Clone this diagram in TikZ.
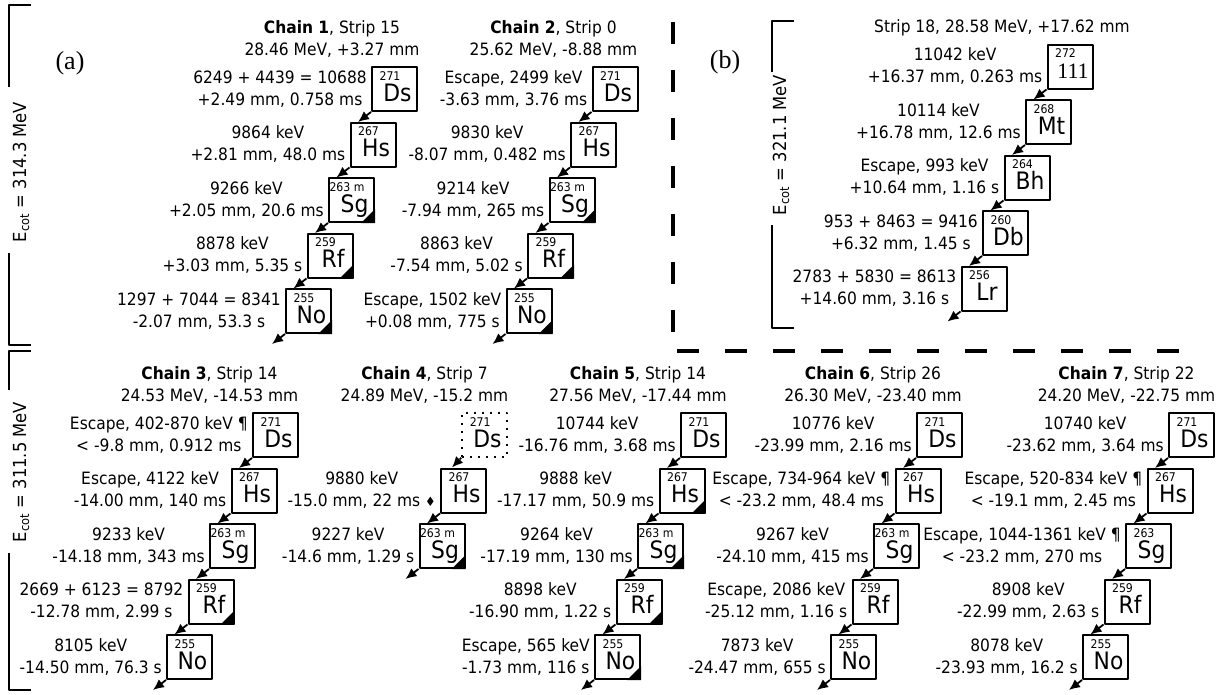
\documentclass[tikz,border=0pt]{standalone}
\usepackage{fontspec}
\setmainfont{DejaVu Sans}[FakeStretch=0.91]
\newfontfamily\romanfont{Liberation Serif}
\usetikzlibrary{arrows.meta}

\begin{document}
\begin{tikzpicture}[x=1pt, y=-1pt, line join=round,
    nuc/.style={draw, line width=2pt, minimum width=45pt, minimum height=44pt, inner sep=0pt},
    elem/.style={anchor=base, inner sep=0pt, font=\fontsize{24}{24}\selectfont},
    mass/.style={anchor=north, inner sep=0pt, font=\fontsize{12}{12}\selectfont},
    lab/.style={anchor=east, align=center, inner sep=0pt, font=\fontsize{17}{22}\selectfont},
    head/.style={align=center, inner sep=0pt, font=\fontsize{17}{22}\selectfont},
    ecot/.style={rotate=90, inner sep=0pt, font=\fontsize{18}{18}\selectfont},
    panel/.style={inner sep=0pt, font=\romanfont\fontsize{26}{26}\selectfont},
    decay/.style={line width=1.8pt, -{Latex[length=11pt, width=10pt]}},
    bracket/.style={line width=2.5pt},
    cut/.style={line width=4pt, dash pattern=on 22pt off 26pt}]
  \useasboundingbox (0,0) rectangle (1228,694);

  % decay chains, top box centre then step down-left
  \foreach \ch/\cx/\cy/\boxes in {
    1/394.5/89/{Ds/271/{6249 + 4439 = 10688}/{+2.49 mm, 0.758 ms}/0,
      Hs/267/{9864 keV}/{+2.81 mm, 48.0 ms}/0,
      Sg/{263 m}/{9266 keV}/{+2.05 mm, 20.6 ms}/1,
      Rf/259/{8878 keV}/{+3.03 mm, 5.35 s}/1,
      No/255/{1297 + 7044 = 8341}/{-2.07 mm, 53.3 s}/1},
    2/615/89/{Ds/271/{Escape, 2499 keV}/{-3.63 mm, 3.76 ms}/0,
      Hs/267/{9830 keV}/{-8.07 mm, 0.482 ms}/0,
      Sg/{263 m}/{9214 keV}/{-7.94 mm, 265 ms}/1,
      Rf/259/{8863 keV}/{-7.54 mm, 5.02 s}/1,
      No/255/{Escape, 1502 keV}/{+0.08 mm, 775 s}/1},
    b/1070/66.5/{{\romanfont\fontsize{22}{22}\selectfont 111}/272/{11042 keV}/{+16.37 mm, 0.263 ms}/0,
      Mt/268/{10114 keV}/{+16.78 mm, 12.6 ms}/0,
      Bh/264/{Escape, 993 keV}/{+10.64 mm, 1.16 s}/0,
      Db/260/{953 + 8463 = 9416}/{+6.32 mm, 1.45 s}/0,
      Lr/256/{2783 + 5830 = 8613}/{+14.60 mm, 3.16 s}/0},
    3/275.5/435/{Ds/271/{Escape, 402-870 keV ¶}/{< -9.8 mm, 0.912 ms}/0,
      Hs/267/{Escape, 4122 keV}/{-14.00 mm, 140 ms}/0,
      Sg/{263 m}/{9233 keV}/{-14.18 mm, 343 ms}/0,
      Rf/259/{2669 + 6123 = 8792}/{-12.78 mm, 2.99 s}/1,
      No/255/{8105 keV}/{-14.50 mm, 76.3 s}/0},
    4/463.5/490.5/{Hs/267/{9880 keV}/{-15.0 mm, 22 ms {\fontsize{13}{13}\selectfont ♦}}/0,
      Sg/{263 m}/{9227 keV}/{-14.6 mm, 1.29 s}/1},
    5/703.5/435/{Ds/271/{10744 keV}/{-16.76 mm, 3.68 ms}/0,
      Hs/267/{9888 keV}/{-17.17 mm, 50.9 ms}/1,
      Sg/{263 m}/{9264 keV}/{-17.19 mm, 130 ms}/1,
      Rf/259/{8898 keV}/{-16.90 mm, 1.22 s}/1,
      No/255/{Escape, 565 keV}/{-1.73 mm, 116 s}/1},
    6/939.5/435/{Ds/271/{10776 keV}/{-23.99 mm, 2.16 ms}/0,
      Hs/267/{Escape, 734-964 keV ¶}/{< -23.2 mm, 48.4 ms}/0,
      Sg/{263 m}/{9267 keV}/{-24.10 mm, 415 ms}/0,
      Rf/259/{Escape, 2086 keV}/{-25.12 mm, 1.16 s}/0,
      No/255/{7873 keV}/{-24.47 mm, 655 s}/0},
    7/1191.5/435/{Ds/271/{10740 keV}/{-23.62 mm, 3.64 ms}/0,
      Hs/267/{Escape, 520-834 keV ¶}/{< -19.1 mm, 2.45 ms}/0,
      Sg/263/{Escape, 1044-1361 keV ¶}/{< -23.2 mm, 270 ms}/0,
      Rf/259/{8908 keV}/{-22.99 mm, 2.63 s}/0,
      No/255/{8078 keV}/{-23.93 mm, 16.2 s}/0}}
  {
    \foreach \el/\ms/\ea/\eb/\tri [count=\i from 0] in \boxes {
      \node[nuc] (c\ch-\i) at ({\cx-21.5*\i},{\cy+55.5*\i}) {};
      \node[elem] at ([shift={(3,12)}]c\ch-\i.center) {\el};
      \node[mass] at ([shift={(19,5)}]c\ch-\i.north west) {\ms};
      \node[lab] at ([xshift=-4pt]c\ch-\i.west) {\ea\\\eb};
      \coordinate (c\ch-t\i) at ([shift={(-13,10)}]c\ch-\i.south west);
      \draw[decay] (c\ch-\i.south west) -- (c\ch-t\i);
      \ifnum\tri=1 \fill (c\ch-\i.south east) -- ++(-14,0) -- ++(14,-14) -- cycle; \fi
    }
  }

  % chain 4: unseen mother
  \node[nuc, line width=1.6pt, dash pattern=on 2pt off 6pt] (c4-d) at (484.5,435) {};
  \node[elem] at ([shift={(3,12)}]c4-d.center) {Ds};
  \node[mass] at ([shift={(19,5)}]c4-d.north west) {271};
  \draw[decay, dash pattern=on 2pt off 6pt] (c4-d.south west) -- ([xshift=12pt]c4-0.north west);

  % chain headers
  \node[head] (t1) at (332,39) {\textbf{Chain 1}, Strip 15\\28.46 MeV, +3.27 mm};
  \node[head] (t2) at (553.5,39) {\textbf{Chain 2}, Strip 0\\25.62 MeV, -8.88 mm};
  \node[head] (tb) at (1002,28) {Strip 18, 28.58 MeV, +17.62 mm};
  \node[head] (t3) at (209.5,385) {\textbf{Chain 3}, Strip 14\\24.53 MeV, -14.53 mm};
  \node[head] (t4) at (424.5,385) {\textbf{Chain 4}, Strip 7\\24.89 MeV, -15.2 mm};
  \node[head] (t5) at (638,385) {\textbf{Chain 5}, Strip 14\\27.56 MeV, -17.44 mm};
  \node[head] (t6) at (873,385) {\textbf{Chain 6}, Strip 26\\26.30 MeV, -23.40 mm};
  \node[head] (t7) at (1126.5,385) {\textbf{Chain 7}, Strip 22\\24.20 MeV, -22.75 mm};

  \node[panel] (pa) at (70,63) {(a)};
  \node[panel] (pb) at (725,62) {(b)};

  % beam energy brackets
  \draw[bracket] (31,5) -- (9,5) -- (9,87);
  \draw[bracket] (9,253) -- (9,345) -- (31,345);
  \node[ecot] (ea) at (21,172) {E\textsubscript{cot} = 314.3 MeV};
  \draw[bracket] (31,351) -- (9,351) -- (9,390);
  \draw[bracket] (9,553) -- (9,690) -- (31,690);
  \node[ecot] (ec) at (21,472) {E\textsubscript{cot} = 311.5 MeV};
  \draw[bracket] (794,21) -- (772,21) -- (772,72);
  \draw[bracket] (772,225) -- (772,328) -- (794,328);
  \node[ecot] (eb) at (781,145) {E\textsubscript{cot} = 321.1 MeV};

  % panel separators
  \draw[cut] (673,22) -- (673,334);
  \draw[cut] (677,351) -- (1182,351);
\end{tikzpicture}
\end{document}
